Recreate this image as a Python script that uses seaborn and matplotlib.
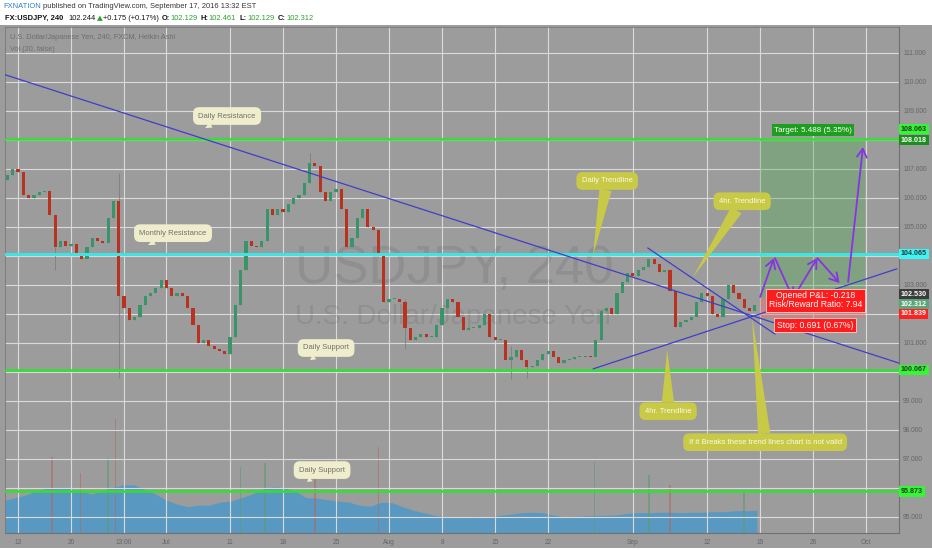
import numpy as np
import matplotlib
matplotlib.use("Agg")
import matplotlib.pyplot as plt
from matplotlib.patches import Rectangle
import seaborn as sns

# half-day Heikin Ashi closes, first one on Fri Jun 10 (day -1, Mon Jun 13 = day 0)
closes = [
    106.8, 107.0, 106.9, 106.1, 106.0, 106.1, 106.2, 106.25, 105.4, 104.3,
    104.5, 104.35, 104.4, 104.1, 103.9, 104.3, 104.6, 104.5, 104.45, 105.3,
    105.9, 102.6, 102.2, 101.8, 101.9, 102.3, 102.6, 102.7, 102.9, 103.15,
    102.9, 102.6, 102.7, 102.6, 102.2, 101.6, 101.0, 101.1, 100.9, 100.8,
    100.7, 100.6, 101.2, 102.3, 103.5, 104.5, 104.35, 104.3, 104.5, 105.6,
    105.4, 105.6, 105.5, 105.8, 106.0, 106.1, 106.5, 107.2, 107.1, 106.2,
    105.9, 106.2, 106.3, 105.6, 104.3, 104.6, 105.3, 105.6, 105.0, 104.9,
    104.0, 102.4, 102.5, 102.5, 102.4, 101.5, 101.1, 101.2, 101.3, 101.2,
    101.2, 101.6, 102.2, 102.5, 102.4, 101.9, 101.45, 101.5, 101.5, 101.6,
    102.0, 101.2, 101.1, 101.1, 100.4, 100.5, 100.75, 100.4, 100.15, 100.2,
    100.4, 100.6, 100.7, 100.5, 100.3, 100.4, 100.45, 100.5, 100.5, 100.55,
    100.5, 101.1, 102.1, 102.2, 102.0, 102.7, 103.1, 103.4, 103.3, 103.5,
    103.6, 103.9, 103.7, 103.45, 103.5, 102.8, 101.55, 101.7, 101.8, 101.9,
    102.4, 102.7, 102.6, 102.0, 101.9, 102.5, 103.0, 102.7, 102.5, 102.2,
    102.1, 102.3,
]
first_open = 106.6

# a few visible long wicks
wick_days = [3.5, 9.5, 27.5, 36.5, 46.5, 48.0]
wick_highs = [105.4, 106.85, 107.55, 102.5, 100.9, 100.4]
wick_lows = [103.5, 99.8, 106.9, 100.8, 99.75, 99.8]

# volume MA area (one value per trading day, from day -1) and the bigger bars
vol_ma = [
    6.5, 7.0, 7.6, 8.4, 8.9, 8.9, 8.8, 8.3, 7.7, 8.3,
    9.0, 9.5, 9.5, 8.6, 7.7, 6.5, 5.7, 5.2, 5.5, 5.5,
    6.1, 6.3, 7.0, 7.7, 8.7, 9.1, 8.9, 8.3, 7.0, 6.9,
    6.6, 6.3, 6.1, 5.5, 5.3, 6.1, 6.0, 5.2, 4.5, 4.0,
    3.5, 3.2, 3.2, 3.2, 3.3, 3.2, 3.5, 3.7, 4.0, 4.1,
    4.0, 3.6, 3.2, 3.3, 3.4, 3.5, 3.5, 3.6, 3.9, 4.0,
    4.0, 4.1, 4.1, 4.0, 4.1, 4.1, 4.2, 4.2, 4.4, 4.4,
    4.5,
]
spike_days = [3.2, 5.9, 8.5, 9.2, 21.0, 23.3, 28.0, 34.0, 54.4, 59.5, 61.5, 68.5]
spike_vols = [15.0, 11.9, 14.8, 22.5, 13.0, 13.8, 11.5, 17.0, 14.0, 11.5, 9.5, 8.0]
spike_up = [False, False, True, False, True, True, False, False, True, True, False, True]

levels = [108.018, 104.065, 100.067, 95.873]
level_colors = ["#2fe22f", "#3fe3e3", "#2fe22f", "#2fe22f"]

tick_days = [0, 5, 10, 14, 20, 25, 30, 35, 40, 45, 50, 58, 65, 70, 75, 80]
tick_labels = ["13", "20", "13:00", "Jul", "11", "18", "25", "Aug", "8", "15",
               "22", "Sep", "12", "19", "26", "Oct"]
price_grid = list(range(95, 112))
price_hidden = [96, 100, 102, 104, 108]

trend_daily_d = [-1.7, 83.1]
trend_daily_p = [110.3, 100.3]
trend_up_d = [54.25, 82.9]
trend_up_p = [100.1, 103.55]
trend_dn_d = [59.4, 71.4]
trend_dn_p = [104.27, 101.3]

entry, target, stop = 102.530, 108.018, 101.839
pos_start, pos_end = 70.0, 79.9

# projected zig-zag (start day, start price, end day, end price)
proj_d0 = [70.0, 71.4, 73.1, 75.4, 78.3]
proj_p0 = [102.58, 103.92, 102.54, 103.92, 103.1]
proj_d1 = [71.3, 73.1, 75.4, 77.5, 79.7]
proj_p1 = [103.92, 102.54, 103.92, 103.06, 107.75]

price_labels = ["108.063", "108.018", "104.065", "102.530", "102.312", "101.839", "100.067", "95.873"]
price_label_bg = ["#36f536", "#1b8f1b", "#3ef5f5", "#3c3c3c", "#5aa57a", "#ff2020", "#36f536", "#36f536"]
price_label_fg = ["#1d3d1d", "white", "#1d3d3d", "white", "white", "white", "#1d3d1d", "#1d3d1d"]

header1 = [("FXNATION", "#2a7fd4", "normal", 2),
           ("published on TradingView.com, September 17, 2016 13:32 EST", "#333333", "normal", 0)]
header2 = [("FX:USDJPY, 240", "#111111", "bold", 5), ("102.244", "#111111", "normal", 1),
           ("\u25b2", "#2ca02c", "normal", 1), ("+0.175 (+0.17%)", "#111111", "normal", 3),
           ("O:", "#111111", "bold", 0), ("102.129", "#2ca02c", "normal", 3),
           ("H:", "#111111", "bold", 0), ("102.461", "#2ca02c", "normal", 4),
           ("L:", "#111111", "bold", 0), ("102.129", "#2ca02c", "normal", 4),
           ("C:", "#111111", "bold", 0), ("102.312", "#2ca02c", "normal", 0)]

# ---- drawing ----
sns.set_style("darkgrid")
plt.rcParams["font.family"] = ["Liberation Sans", "DejaVu Sans"]

BG = "#9c9c9c"
fig = plt.figure(figsize=(9.32, 5.5), dpi=100)
fig.patch.set_facecolor("white")
fig.patches.append(Rectangle((0, 2 / 550), 1, 523 / 550, transform=fig.transFigure,
                             fc=BG, ec="none", zorder=0))

ax = fig.add_axes([5 / 932, 17 / 550, 894 / 932, 506 / 550])
ax_v = ax.twinx()
ax.yaxis.tick_right()
ax_v.set_zorder(1)
ax.set_zorder(2)
ax.patch.set_visible(False)
ax_v.patch.set_visible(True)
ax_v.patch.set_facecolor(BG)

# volume
vol_x = np.arange(len(vol_ma)) * (70.9 / 70) - 1.2
ax_v.fill_between(vol_x, 0, vol_ma, color="#5299c6", alpha=0.9, lw=0)
ax_v.bar(spike_days, spike_vols, width=0.14,
         color=["#5f9a72" if u else "#ad6a64" for u in spike_up], alpha=0.6, lw=0)
ax_v.set_ylim(0, 100)
ax_v.set_yticks([])
ax_v.grid(False)
for s in ax_v.spines.values():
    s.set_visible(False)

# candles
c = np.array(closes)
o = np.concatenate([[first_open], c[:-1]])
days = -1 + 0.5 * np.arange(len(c))
hi = np.maximum(o, c)
lo = np.minimum(o, c)
for d, h, l in zip(wick_days, wick_highs, wick_lows):
    i = int(round((d + 1) / 0.5))
    hi[i] = max(hi[i], h)
    lo[i] = min(lo[i], l)
up = c >= o
ax.vlines(days, lo, hi, color="#737d76", lw=0.5, zorder=3)
ax.bar(days, np.maximum(np.abs(c - o), 0.04), bottom=np.minimum(o, c), width=0.3,
       color=np.where(up, "#3a946a", "#b8321f"), lw=0, zorder=3)

# support / resistance levels
for lvl, col in zip(levels, level_colors):
    ax.axhline(lvl, color=col, lw=2.2 if col == "#3fe3e3" else 1.8, zorder=4)

# trend lines
for xs, ys in [(trend_daily_d, trend_daily_p), (trend_up_d, trend_up_p), (trend_dn_d, trend_dn_p)]:
    sns.lineplot(x=xs, y=ys, ax=ax, color="#3f3fc8", lw=0.9, zorder=5)

# long position box
ax.add_patch(Rectangle((pos_start, entry), pos_end - pos_start, target - entry,
                       fc="#4caf50", alpha=0.35, ec="none", zorder=2))
ax.add_patch(Rectangle((pos_start, stop), pos_end - pos_start, entry - stop,
                       fc="#ef7070", alpha=0.45, ec="none", zorder=2))

for x0, y0, x1, y1 in zip(proj_d0, proj_p0, proj_d1, proj_p1):
    ax.annotate("", xy=(x1, y1), xytext=(x0, y0),
                arrowprops=dict(arrowstyle="->,head_length=0.6,head_width=0.35",
                                color="#8a32e6", lw=1.3, shrinkA=0, shrinkB=0),
                zorder=6)

ax.text(75.0, 108.33, "Target: 5.488 (5.35%)", ha="center", va="center", fontsize=5.8,
        color="white", zorder=7,
        bbox=dict(boxstyle="square,pad=0.3", fc="#1e9e1e", ec="none"))
ax.text(75.2, 102.47, "Opened P&L: -0.218\nRisk/Reward Ratio: 7.94", ha="center", va="center",
        fontsize=6.2, color="white", linespacing=1.0, zorder=7,
        bbox=dict(boxstyle="square,pad=0.3", fc="#ff1c1c", ec="#ffd0d0", lw=0.6))
ax.text(75.2, 101.6, "Stop: 0.691 (0.67%)", ha="center", va="center", fontsize=6.2,
        color="white", zorder=7,
        bbox=dict(boxstyle="square,pad=0.3", fc="#ff1c1c", ec="#ffd0d0", lw=0.6))

# watermark
ax.text(41.2, 103.55, "USDJPY, 240", fontsize=38, color="black", alpha=0.08,
        ha="center", va="center", zorder=1)
ax.text(41.0, 101.88, "U.S. Dollar/Japanese Yen", fontsize=20, color="black", alpha=0.08,
        ha="center", va="center", zorder=1)


def callout(text, xy_text, xy_tip, fc, tc, tail):
    ax.annotate(text, xy=xy_tip, xytext=xy_text, ha="center", va="center",
                fontsize=5.5, color=tc, zorder=8,
                bbox=dict(boxstyle="round,pad=0.7,rounding_size=0.8", fc=fc, ec="none"),
                arrowprops=dict(arrowstyle=f"wedge,tail_width={tail},shrink_factor=0.5",
                                fc=fc, ec="none", shrinkA=0, shrinkB=0))


CREAM, CREAM_T = "#efedcb", "#707070"
YEL, YEL_T = "#c9c948", "#fbfbe6"
callout("Daily Resistance", (19.72, 108.82), (17.64, 108.40), CREAM, CREAM_T, 0.8)
callout("Monthly Resistance", (14.62, 104.78), (12.26, 104.37), CREAM, CREAM_T, 0.8)
callout("Daily Support", (29.06, 100.82), (27.55, 100.40), CREAM, CREAM_T, 0.8)
callout("Daily Support", (28.68, 96.61), (27.26, 96.20), CREAM, CREAM_T, 0.8)
callout("Daily Trendline", (55.57, 106.58), (54.25, 104.03), YEL, YEL_T, 1.6)
callout("4hr. Trendline", (68.30, 105.88), (63.68, 103.27), YEL, YEL_T, 1.6)
callout("4hr. Trendline", (61.32, 98.64), (61.23, 100.75), YEL, YEL_T, 1.6)
callout("If it Breaks these trend lines chart is not valid", (70.47, 97.57), (69.25, 101.85),
        YEL, YEL_T, 1.6)

# axes, ticks and grid
ax.set_xlim(-1.23, 83.1)
ax.set_ylim(94.44, 111.89)
ax.set_yticks(price_grid)
ax.set_yticklabels(["" if p in price_hidden else f"{p:.3f}" for p in price_grid])
ax.set_xticks(tick_days)
ax.set_xticklabels(tick_labels)
ax.tick_params(axis="y", length=0, pad=3, labelsize=4.8, labelcolor="#666666")
ax.tick_params(axis="x", length=0, pad=4.5, labelsize=4.8, labelcolor="#666666")
ax.grid(True, color="#dadada", lw=0.8)
ax.set_axisbelow(True)
ax.set_xlabel("")
ax.set_ylabel("")
for side, s in ax.spines.items():
    s.set_visible(True)
    s.set_color("#707070")
    s.set_linewidth(0.8 if side in ("right", "bottom") else 0.5)

label_pos = [108.37, 107.99, 104.065, 102.68, 102.33, 102.0, 100.067, 95.873]
for txt, yp, bgc, fgc in zip(price_labels, label_pos, price_label_bg, price_label_fg):
    ax.text(1.002, yp, txt, transform=ax.get_yaxis_transform(), ha="left", va="center",
            fontsize=5.1, color=fgc, fontweight="bold", zorder=9, clip_on=False,
            bbox=dict(boxstyle="square,pad=0.25", fc=bgc, ec="none"))

ax.text(0.0056, 0.980, "U.S. Dollar/Japanese Yen, 240, FXCM, Heikin Ashi", transform=ax.transAxes,
        fontsize=5.3, color="#6e6e6e", va="center", ha="left", zorder=9)
ax.text(0.0056, 0.955, "Vol (20, false)", transform=ax.transAxes,
        fontsize=5.3, color="#6e6e6e", va="center", ha="left", zorder=9)

# header: segments laid out one after another
fig.canvas.draw()
renderer = fig.canvas.get_renderer()
for line, y0, x0 in [(header1, 7, 3), (header2, 18, 5)]:
    x = x0
    for s, col, w, gap in line:
        fam = ["DejaVu Sans"] if s == "\u25b2" else ["Liberation Sans", "DejaVu Sans"]
        t = fig.text(x / 932, 1 - y0 / 550, s, va="center", ha="left", fontsize=5.4,
                     color=col, fontweight=w, family=fam)
        x += t.get_window_extent(renderer=renderer).width + gap

fig.savefig("out.png", dpi=100, facecolor="white")
